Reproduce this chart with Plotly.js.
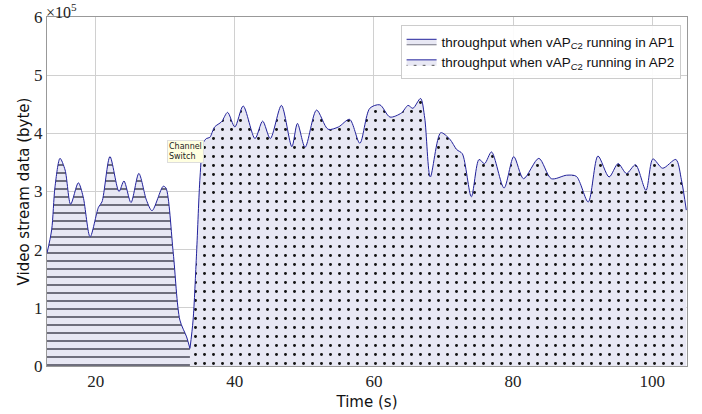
<!DOCTYPE html>
<html>
<head>
<meta charset="utf-8">
<script src="https://cdn.plot.ly/plotly-3.0.1.min.js"></script>
<style>html,body{margin:0;padding:0;background:#fff;}#chart{width:702px;height:414px;}</style>
</head>
<body>
<div id="chart"></div>
<script>
// Time (s) and throughput (bytes) while vAP_C2 runs in AP1
const timeAP1 = [13.0, 13.67, 14.15, 14.87, 15.6, 16.4, 17.5, 18.2, 19.2, 20.4, 20.9, 22.05, 23.35, 24.06, 25.07, 26.2, 27.3, 28.1, 29.7, 30.1, 31.15, 32.1, 33.07, 33.55];
const valAP1  = [194000, 234000, 308000, 357000, 337000, 278000, 315000, 291000, 222000, 273000, 282000, 360000, 300000, 318000, 281000, 331000, 285000, 267000, 309000, 306000, 194000, 79000, 50000, 30000];

// Time (s) and throughput (bytes) while vAP_C2 runs in AP2
const timeAP2 = [33.55, 34.0, 34.5, 35.0, 35.45, 35.9, 36.4, 37.1, 38.1, 38.96, 40.0, 41.2, 42.9, 44.0, 45.1, 46.7, 48.2, 49.0, 50.1, 51.75, 53.4, 54.9, 56.5, 57.97, 59.4, 60.85, 62.3, 63.95, 64.9, 65.6, 66.7, 67.3, 68.1, 69.6, 70.9, 71.9, 72.7, 74.0, 75.1, 75.9, 76.9, 78.7, 80.1, 81.5, 83.7, 85.5, 87.7, 89.1, 90.8, 92.2, 93.8, 95.1, 96.3, 97.6, 99.1, 100.1, 101.5, 103.4, 104.2, 104.9];
const valAP2  = [30000, 79000, 194000, 325000, 383000, 391000, 393000, 411000, 420000, 436000, 411000, 447000, 391000, 421000, 391000, 448000, 377000, 417000, 376000, 440000, 407000, 411000, 424000, 383000, 443000, 449000, 428000, 435000, 448000, 443000, 460000, 426000, 325000, 401000, 390000, 372000, 365000, 291000, 355000, 348000, 368000, 306000, 360000, 322000, 357000, 322000, 328000, 326000, 282000, 361000, 325000, 348000, 331000, 346000, 302000, 356000, 340000, 355000, 320000, 268000];

const xTicks = [20, 40, 60, 80, 100];
const yTickVals = [0, 100000, 200000, 300000, 400000, 500000, 600000];
const yTickText = ['0', '1', '2', '3', '4', '5', '6'];

const serif = 'Liberation Serif, DejaVu Serif, serif';
const sans = 'DejaVu Sans, Liberation Sans, sans-serif';
const legSans = 'Liberation Sans, Arial, sans-serif';

const traces = [
  {
    x: timeAP1, y: valAP1, type: 'scatter', mode: 'lines',
    name: 'throughput when vAP<sub><i>C</i>2</sub> running in AP1',
    line: {color: '#22229c', width: 1, shape: 'spline', smoothing: 0.8},
    fill: 'tozeroy', fillcolor: '#e8e8f4',
    fillpattern: {shape: '-', fgcolor: '#2a2a3a', bgcolor: '#e8e8f4', size: 8, solidity: 0.16}
  },
  {
    x: timeAP2, y: valAP2, type: 'scatter', mode: 'lines',
    name: 'throughput when vAP<sub><i>C</i>2</sub> running in AP2',
    line: {color: '#22229c', width: 1, shape: 'spline', smoothing: 0.8},
    fill: 'tozeroy', fillcolor: '#e8e8f4',
    fillpattern: {shape: '.', fgcolor: '#111111', bgcolor: '#e8e8f4', size: 9, solidity: 0.085}
  }
];

const layout = {
  width: 702, height: 414,
  margin: {l: 47, r: 15, t: 17, b: 48},
  paper_bgcolor: '#ffffff', plot_bgcolor: '#ffffff',
  showlegend: true,
  legend: {
    x: 0.99, y: 0.977, xanchor: 'right', yanchor: 'top',
    bgcolor: 'rgba(255,255,255,0.9)', bordercolor: '#cccccc', borderwidth: 1,
    font: {family: legSans, size: 13.5, color: '#111'},
    tracegroupgap: 0
  },
  xaxis: {
    range: [13, 105], tickvals: xTicks,
    showgrid: true, gridcolor: '#d0d0d0', gridwidth: 1,
    showline: true, linecolor: '#999999', mirror: true, zeroline: false,
    ticks: '', tickfont: {family: serif, size: 17, color: '#222'},
    title: {text: 'Time (s)', font: {family: sans, size: 15, color: '#111'}, standoff: 6}
  },
  yaxis: {
    range: [0, 600000], tickvals: yTickVals, ticktext: yTickText,
    showgrid: true, gridcolor: '#d0d0d0', gridwidth: 1,
    showline: true, linecolor: '#999999', mirror: true, zeroline: false,
    ticks: '', tickfont: {family: serif, size: 17, color: '#222'},
    title: {text: 'Video stream data (byte)', font: {family: sans, size: 15, color: '#111'}, standoff: 0}
  },
  annotations: [
    {
      xref: 'paper', yref: 'paper', x: 0, y: 1, xanchor: 'left', yanchor: 'top', yshift: 18, xshift: -3,
      text: '×10<sup>5</sup>', showarrow: false,
      font: {family: serif, size: 16, color: '#222'}
    },
    {
      xref: 'x', yref: 'y', x: 30.2, y: 388000, xanchor: 'left', yanchor: 'top',
      text: 'Channel<br>Switch', showarrow: false, align: 'left',
      bgcolor: '#ffffe0', bordercolor: '#dddddd', borderwidth: 1, borderpad: 1,
      font: {family: sans, size: 8, color: '#222'}
    }
  ]
};

Plotly.newPlot('chart', traces, layout, {displayModeBar: false, staticPlot: true});
</script>
</body>
</html>
